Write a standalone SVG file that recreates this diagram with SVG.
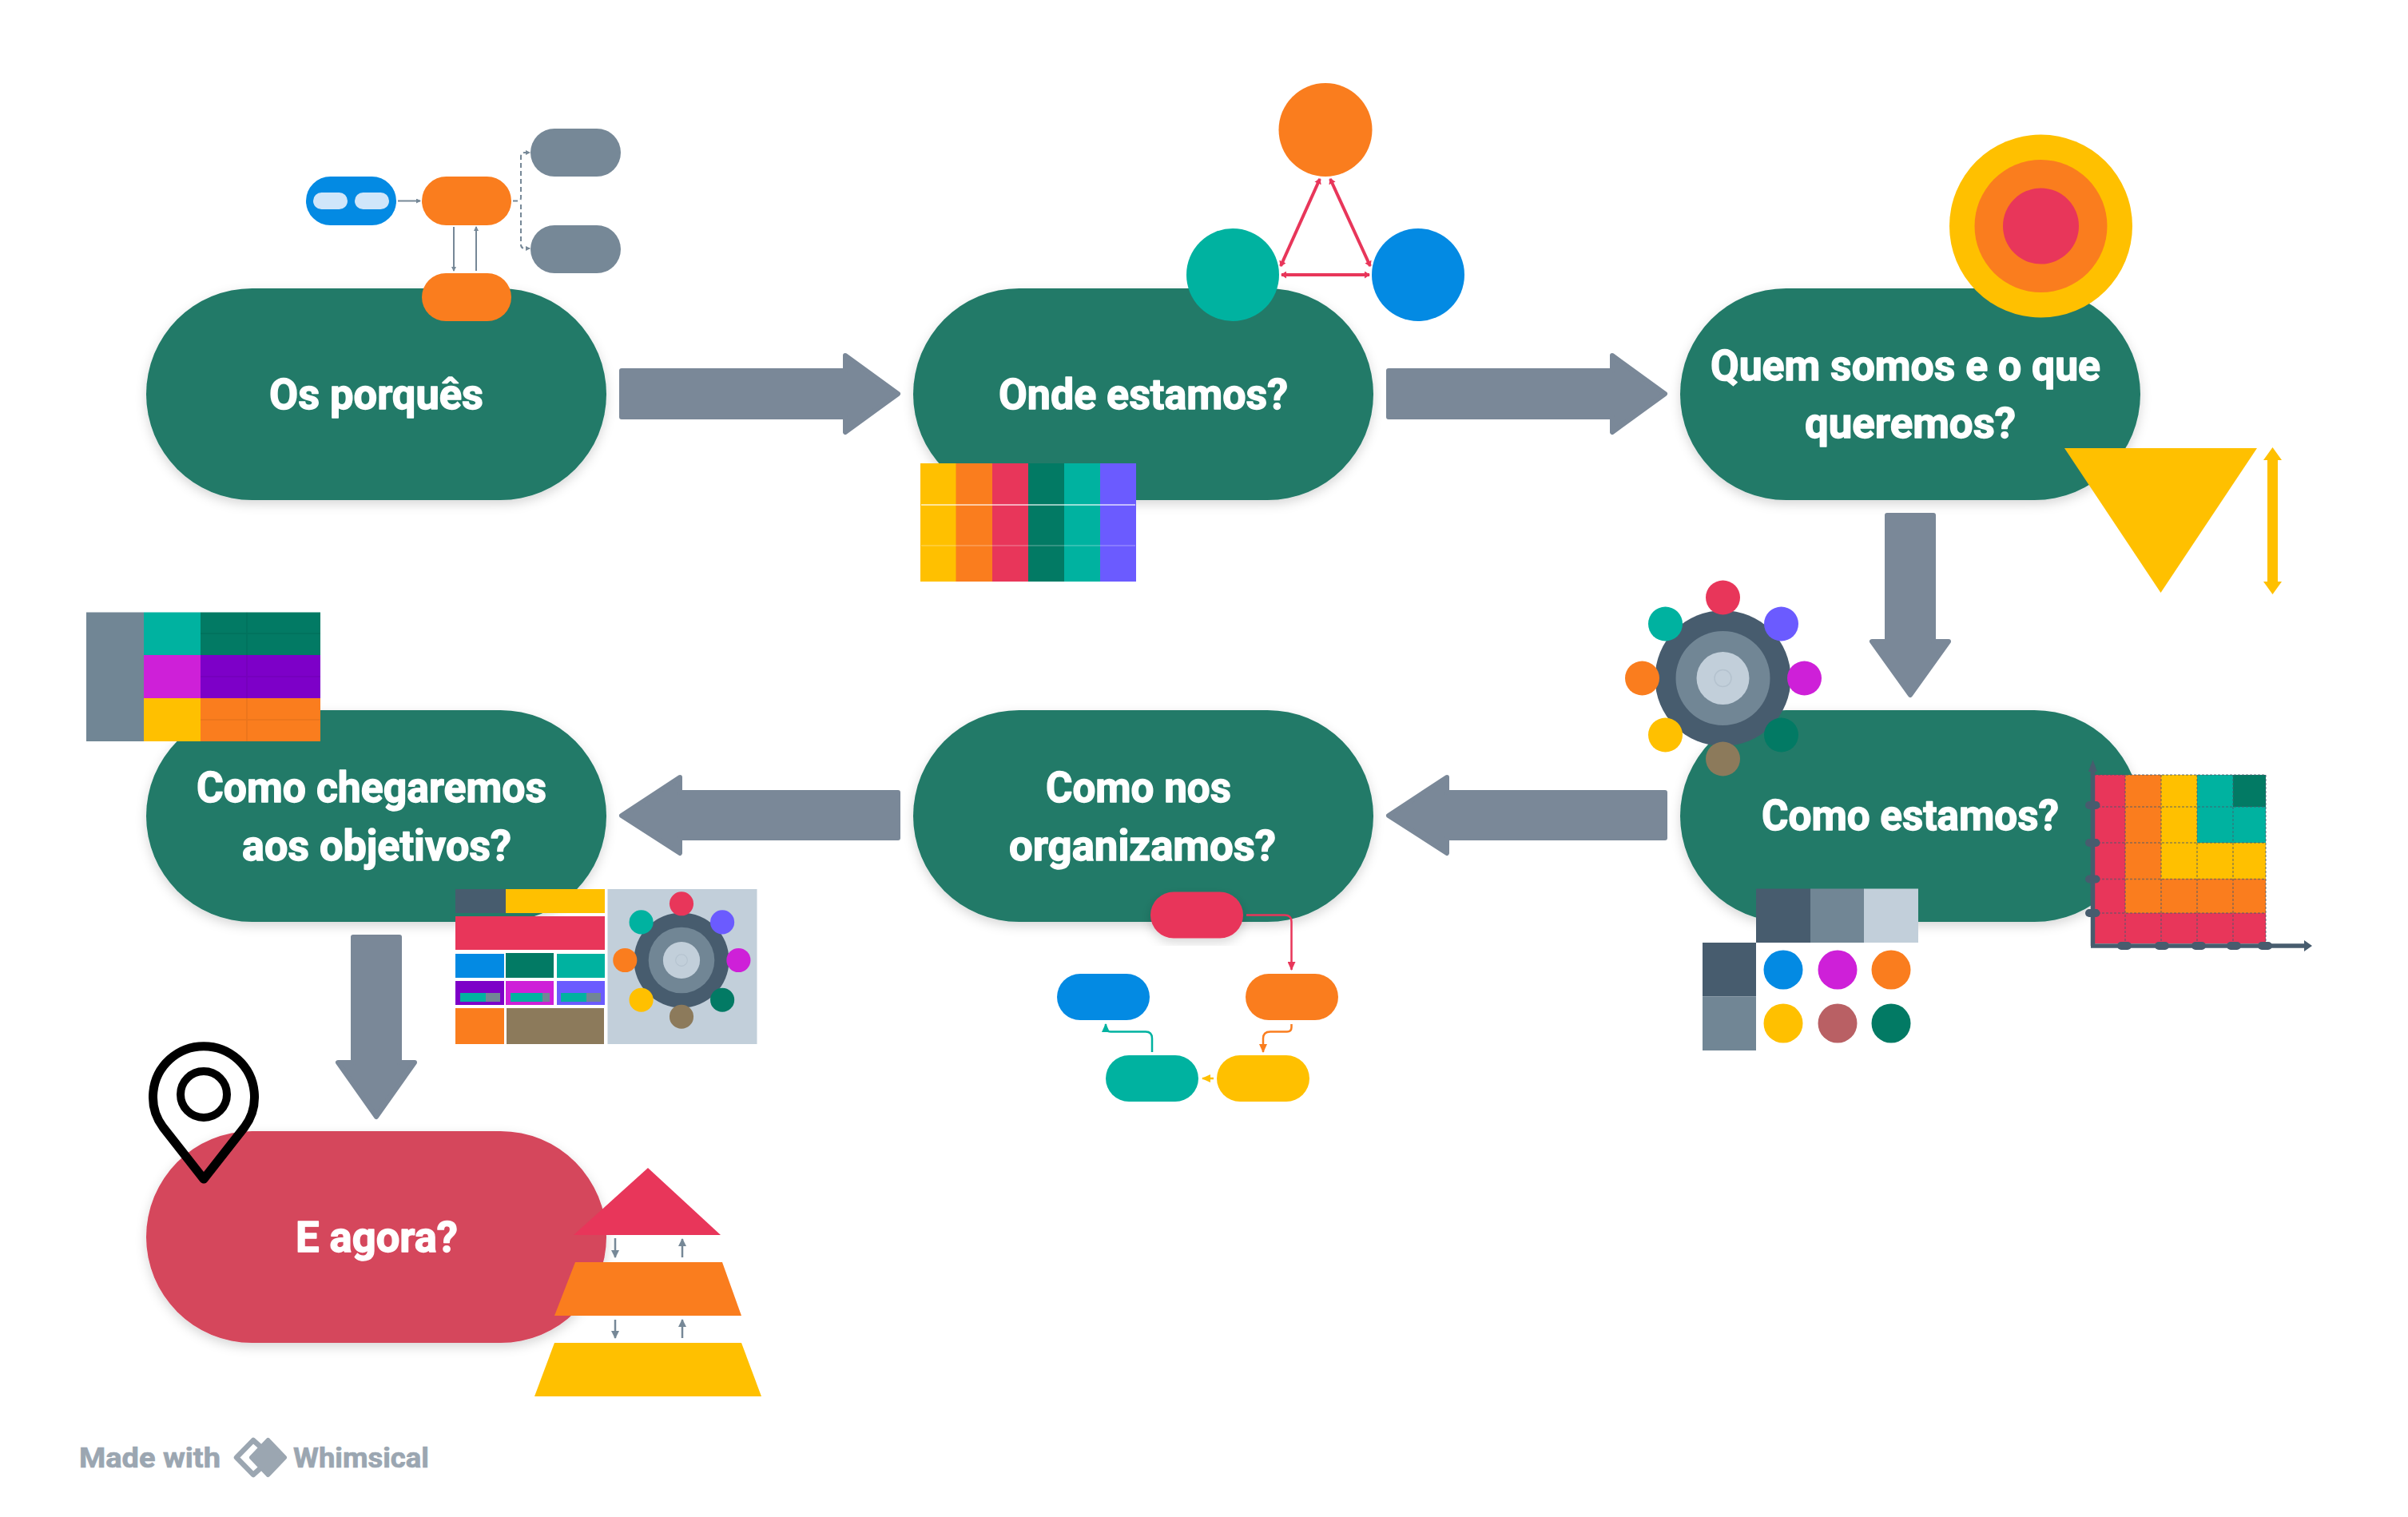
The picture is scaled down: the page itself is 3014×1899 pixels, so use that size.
<svg xmlns="http://www.w3.org/2000/svg" xmlns:xlink="http://www.w3.org/1999/xlink" width="3014" height="1899" viewBox="0 0 3014 1899">
<style>
  .stage { fill: #227A68; filter: url(#soft); }
  .stage-alert { fill: #D5465C; filter: url(#soft); }
  .label { font-family: "Roboto", "Liberation Sans", sans-serif; font-weight: 700; font-size: 53px; fill: #fff; stroke: #fff; stroke-width: 1.4; stroke-linejoin: round; }
  .flow { fill: #7A8898; stroke: #7A8898; stroke-width: 6; stroke-linejoin: round; }
  .thin { fill: none; stroke: #768897; stroke-width: 2; }
  .red { fill: #E8365A; } .ora { fill: #FA7D1E; } .yel { fill: #FFC000; } .grn { fill: #027A64; } .tea { fill: #00B2A0; } .vio { fill: #6B5BFF; }
  .blu { fill: #038AE3; } .mag { fill: #CE20D8; } .pur { fill: #7D00C8; } .bro { fill: #8C7A5B; } .sl1 { fill: #475C6E; } .sl2 { fill: #718695; } .sl3 { fill: #C2CFDA; }
  .brand { font-family: "Roboto", "Liberation Sans", sans-serif; font-weight: 700; font-size: 35px; fill: #9BA6B1; stroke: #9BA6B1; stroke-width: 0.7; }
</style>
<defs>
  <filter id="soft" x="-10%" y="-10%" width="120%" height="125%"><feDropShadow dx="0" dy="5" stdDeviation="7" flood-color="#000" flood-opacity="0.16"/></filter>
  <marker id="tipGrey" markerWidth="7" markerHeight="7" refX="5" refY="3" orient="auto-start-reverse" markerUnits="userSpaceOnUse"><path d="M0,0 L6,3 L0,6 Z" fill="#768897"/></marker>
  <marker id="tipTriad" markerWidth="8" markerHeight="9" refX="6" refY="4.5" orient="auto-start-reverse" markerUnits="userSpaceOnUse"><path d="M0,0 L7,4.5 L0,9 Z" fill="#E8365A"/></marker>
  <marker id="tipRed" markerWidth="12" markerHeight="10" refX="10" refY="5" orient="auto" markerUnits="userSpaceOnUse"><path d="M0,0 L11,5 L0,10 Z" fill="#E8365A"/></marker>
  <marker id="tipOra" markerWidth="12" markerHeight="10" refX="10" refY="5" orient="auto" markerUnits="userSpaceOnUse"><path d="M0,0 L11,5 L0,10 Z" fill="#FA7D1E"/></marker>
  <marker id="tipYel" markerWidth="12" markerHeight="10" refX="10" refY="5" orient="auto" markerUnits="userSpaceOnUse"><path d="M0,0 L11,5 L0,10 Z" fill="#FFC000"/></marker>
  <marker id="tipTea" markerWidth="12" markerHeight="10" refX="10" refY="5" orient="auto" markerUnits="userSpaceOnUse"><path d="M0,0 L11,5 L0,10 Z" fill="#00B2A0"/></marker>
  <marker id="tipPyr" markerWidth="12" markerHeight="12" refX="9" refY="5" orient="auto" markerUnits="userSpaceOnUse"><path d="M0,0 L10,5 L0,10 Z" fill="#768897"/></marker>
  <g id="gear">
    <circle r="85" class="sl1"/><circle r="59" class="sl2"/><circle r="33" class="sl3"/>
    <circle r="10.5" fill="none" stroke="#B4C2CE" stroke-width="1.5"/>
    <circle cy="-101" r="21.5" class="red"/><circle cx="-72" cy="-68" r="21.5" class="tea"/><circle cx="73" cy="-68" r="21.5" class="vio"/>
    <circle cx="-101" r="21.5" class="ora"/><circle cx="102" r="21.5" class="mag"/>
    <circle cx="-72" cy="71" r="21.5" class="yel"/><circle cx="73" cy="71" r="21.5" class="grn"/><circle cy="101" r="21.5" class="bro"/>
  </g>
</defs>
<rect width="3014" height="1899" fill="#fff"/>

<g id="connectors">
  <path class="flow" d="M778,464 H1058 V445 L1124,493 L1058,541 V522 H778 Z"/>
  <path class="flow" d="M1738,464 H2018 V445 L2084,493 L2018,541 V522 H1738 Z"/>
  <path class="flow" d="M2362,645 H2420 V803 H2439 L2391,870 L2343,803 H2362 Z"/>
  <path class="flow" d="M2084,992 H1811 V973 L1738,1021 L1811,1068 V1049 H2084 Z"/>
  <path class="flow" d="M1124,992 H851 V973 L778,1021 L851,1068 V1049 H1124 Z"/>
  <path class="flow" d="M442,1173 H500 V1330 H519 L471,1398 L423,1330 H442 Z"/>
</g>

<g id="node-porques">
  <rect class="stage" x="183" y="361" width="576" height="265" rx="132.5"/>
  <text class="label" x="337" y="512" textLength="268" lengthAdjust="spacingAndGlyphs">Os porquês</text>
</g>
<g id="node-onde">
  <rect class="stage" x="1143" y="361" width="576" height="265" rx="132.5"/>
  <text class="label" x="1250" y="512" textLength="362" lengthAdjust="spacingAndGlyphs">Onde estamos?</text>
</g>
<g id="node-quem">
  <rect class="stage" x="2103" y="361" width="576" height="265" rx="132.5"/>
  <text class="label" x="2141" y="476" textLength="488" lengthAdjust="spacingAndGlyphs">Quem somos e o que</text>
  <text class="label" x="2259" y="548" textLength="264" lengthAdjust="spacingAndGlyphs">queremos?</text>
</g>
<g id="node-como-estamos">
  <rect class="stage" x="2103" y="889" width="576" height="265" rx="132.5"/>
  <text class="label" x="2205" y="1039" textLength="372" lengthAdjust="spacingAndGlyphs">Como estamos?</text>
</g>
<g id="node-organizamos">
  <rect class="stage" x="1143" y="889" width="576" height="265" rx="132.5"/>
  <text class="label" x="1309" y="1004" textLength="232" lengthAdjust="spacingAndGlyphs">Como nos</text>
  <text class="label" x="1263" y="1077" textLength="334" lengthAdjust="spacingAndGlyphs">organizamos?</text>
</g>
<g id="node-chegaremos">
  <rect class="stage" x="183" y="889" width="576" height="265" rx="132.5"/>
  <text class="label" x="246" y="1004" textLength="438" lengthAdjust="spacingAndGlyphs">Como chegaremos</text>
  <text class="label" x="303" y="1077" textLength="337" lengthAdjust="spacingAndGlyphs">aos objetivos?</text>
</g>
<g id="node-agora">
  <rect class="stage-alert" x="183" y="1416" width="576" height="265" rx="132.5"/>
  <text class="label" x="370" y="1567" textLength="203" lengthAdjust="spacingAndGlyphs">E agora?</text>
</g>

<g id="icon-mindmap">
  <rect class="blu" x="383" y="221" width="113" height="61" rx="30.5"/>
  <rect x="392" y="241" width="43" height="21" rx="10.5" fill="#D0E6FA"/>
  <rect x="444" y="241" width="43" height="21" rx="10.5" fill="#D0E6FA"/>
  <rect class="ora" x="528" y="221" width="112" height="61" rx="30.5"/>
  <rect class="ora" x="528" y="342" width="112" height="60" rx="30"/>
  <rect x="664" y="161" width="113" height="60" rx="30" fill="#768897"/>
  <rect x="664" y="282" width="113" height="60" rx="30" fill="#768897"/>
  <path class="thin" d="M498,251.5 H526" marker-end="url(#tipGrey)"/>
  <path class="thin" d="M568,284 V339" marker-end="url(#tipGrey)"/>
  <path class="thin" d="M596,339 V284" marker-end="url(#tipGrey)"/>
  <path class="thin" stroke-dasharray="6 4" d="M642,251.5 H649 Q652,251.5 652,247 V196 Q652,191 657,191 H663" marker-end="url(#tipGrey)"/>
  <path class="thin" stroke-dasharray="6 4" d="M652,256 V306 Q652,311 657,311 H663" marker-end="url(#tipGrey)"/>
</g>

<g id="icon-triad">
  <circle class="ora" cx="1659" cy="162.5" r="58.5"/>
  <circle class="tea" cx="1543" cy="344" r="58"/>
  <circle class="blu" cx="1775" cy="344" r="58"/>
  <g fill="none" stroke="#E8365A" stroke-width="4">
    <path d="M1652,224 L1603,333" marker-start="url(#tipTriad)" marker-end="url(#tipTriad)"/>
    <path d="M1665,224 L1715,333" marker-start="url(#tipTriad)" marker-end="url(#tipTriad)"/>
    <path d="M1604,344 H1714" marker-start="url(#tipTriad)" marker-end="url(#tipTriad)"/>
  </g>
</g>

<g id="icon-columns">
  <rect class="yel" x="1152" y="580" width="45" height="148"/>
  <rect class="ora" x="1196.5" y="580" width="46" height="148"/>
  <rect class="red" x="1242" y="580" width="45.5" height="148"/>
  <rect class="grn" x="1287" y="580" width="45.5" height="148"/>
  <rect class="tea" x="1332" y="580" width="45.5" height="148"/>
  <rect class="vio" x="1377" y="580" width="45" height="148"/>
  <path d="M1153,632 H1421" stroke="#fff" stroke-opacity="0.8" stroke-width="1.5"/>
  <path d="M1153,683 H1421" stroke="#fff" stroke-opacity="0.2" stroke-width="2"/>
</g>

<g id="icon-target">
  <circle class="yel" cx="2554.5" cy="283" r="114.5"/>
  <circle class="ora" cx="2554.5" cy="283" r="83"/>
  <circle class="red" cx="2554.5" cy="283" r="47.5"/>
</g>

<g id="icon-triangle">
  <path class="yel" d="M2584,561 H2825 L2704.5,742 Z"/>
  <path class="yel" d="M2844.5,560 L2856,576 H2851 V728 H2856 L2844.5,744 L2833,728 H2838 V576 H2833 Z"/>
</g>

<use id="icon-gear" xlink:href="#gear" href="#gear" x="2156.5" y="849"/>

<g id="icon-swatches">
  <rect x="2198" y="1180" width="203" height="135" fill="#fff"/>
  <rect class="sl1" x="2198" y="1112.5" width="68" height="67.5"/>
  <rect class="sl2" x="2266" y="1112.5" width="67.5" height="67.5"/>
  <rect class="sl3" x="2333" y="1112.5" width="68" height="67.5"/>
  <rect class="sl1" x="2131" y="1180" width="67" height="67.5"/>
  <rect class="sl2" x="2131" y="1247.5" width="67" height="67.5"/>
  <circle class="blu" cx="2232" cy="1214" r="24.5"/>
  <circle class="mag" cx="2300" cy="1214" r="24.5"/>
  <circle class="ora" cx="2367" cy="1214" r="24.5"/>
  <circle class="yel" cx="2232" cy="1281" r="24.5"/>
  <circle cx="2300" cy="1281" r="24.5" fill="#B96064"/>
  <circle class="grn" cx="2367" cy="1281" r="24.5"/>
</g>

<g id="icon-chart">
  <rect class="red" x="2621" y="970" width="215" height="211"/>
  <rect class="ora" x="2660" y="970" width="176" height="173"/>
  <rect class="yel" x="2705" y="970" width="131" height="130"/>
  <rect class="tea" x="2750" y="970" width="86" height="85"/>
  <rect class="grn" x="2795" y="970" width="41" height="40"/>
  <g fill="none" stroke="#475C6E" stroke-opacity="0.6" stroke-width="1.5" stroke-dasharray="3 2">
    <path d="M2621,970 H2836 M2621,1010 H2836 M2621,1055 H2836 M2621,1100.5 H2836 M2621,1143 H2836"/>
    <path d="M2660,970 V1181 M2705,970 V1181 M2750,970 V1181 M2795,970 V1181 M2836,970 V1181"/>
  </g>
  <path d="M2619.5,1184 V958 M2617,1184 H2888" fill="none" stroke="#475C6E" stroke-width="5.5"/>
  <path class="sl1" d="M2619.5,951 L2625,966 H2614 Z M2894,1184 L2884,1177 V1191 Z"/>
  <g class="sl1">
    <rect x="2610" y="1003" width="18.5" height="10" rx="5"/>
    <rect x="2610" y="1050" width="18.5" height="10" rx="5"/>
    <rect x="2610" y="1095.5" width="18.5" height="10" rx="5"/>
    <rect x="2610" y="1138" width="18.5" height="10" rx="5"/>
    <rect x="2650" y="1179" width="18" height="10" rx="5"/>
    <rect x="2697" y="1179" width="18" height="10" rx="5"/>
    <rect x="2743" y="1179" width="18" height="10" rx="5"/>
    <rect x="2787" y="1179" width="18" height="10" rx="5"/>
    <rect x="2826" y="1179" width="18" height="10" rx="5"/>
  </g>
</g>

<g id="icon-cycle">
  <rect class="red" x="1440" y="1116.5" width="116" height="58" rx="29" filter="url(#soft)"/>
  <rect class="ora" x="1559" y="1219" width="116" height="58" rx="29"/>
  <rect class="blu" x="1323" y="1219" width="116" height="58" rx="29"/>
  <rect class="tea" x="1384" y="1321" width="116" height="58" rx="29"/>
  <rect class="yel" x="1523" y="1321" width="116" height="58" rx="29"/>
  <path fill="none" stroke="#E8365A" stroke-width="2.5" d="M1560,1145.5 H1608 Q1616.5,1145.5 1616.5,1154 V1214" marker-end="url(#tipRed)"/>
  <path fill="none" stroke="#FA7D1E" stroke-width="2.5" d="M1616.5,1282 V1286 Q1616.5,1291.5 1611,1291.5 H1590 Q1581,1291.5 1581,1300 V1317" marker-end="url(#tipOra)"/>
  <path fill="none" stroke="#FFC000" stroke-width="2.5" d="M1519,1350 H1505" marker-end="url(#tipYel)"/>
  <path fill="none" stroke="#00B2A0" stroke-width="2.5" d="M1442,1317 V1300 Q1442,1291.5 1434,1291.5 H1390 Q1384,1291.5 1384,1286 V1282" marker-end="url(#tipTea)"/>
</g>

<g id="icon-matrix">
  <rect class="sl2" x="108" y="766.5" width="72" height="161.5"/>
  <rect class="tea" x="180" y="766.5" width="71" height="53.5"/>
  <rect class="grn" x="251" y="766.5" width="150" height="53.5"/>
  <rect class="mag" x="180" y="820" width="71" height="54"/>
  <rect class="pur" x="251" y="820" width="150" height="54"/>
  <rect class="yel" x="180" y="874" width="71" height="54"/>
  <rect class="ora" x="251" y="874" width="150" height="54"/>
  <path d="M309,766.5 V928 M251,793 H401 M251,847 H401 M251,901 H401" stroke="#000" stroke-opacity="0.07" stroke-width="1.5" fill="none"/>
</g>

<g id="icon-dashboard">
  <rect class="sl1" x="570" y="1113" width="63" height="30"/>
  <rect class="yel" x="633" y="1113" width="124" height="30"/>
  <rect class="red" x="570" y="1147" width="187" height="42"/>
  <rect class="blu" x="570" y="1194" width="61" height="30"/>
  <rect class="grn" x="633" y="1193" width="60" height="31"/>
  <rect class="tea" x="697" y="1194" width="60" height="30"/>
  <rect class="pur" x="570" y="1228" width="61" height="30"/>
  <rect class="mag" x="633" y="1228" width="60" height="30"/>
  <rect class="vio" x="697" y="1228" width="60" height="30"/>
  <rect class="tea" x="576" y="1243" width="32" height="11"/><rect class="sl2" x="608" y="1243" width="18" height="11"/>
  <rect class="tea" x="639" y="1243" width="40" height="11"/><rect class="sl2" x="679" y="1243" width="9" height="11"/>
  <rect class="tea" x="702" y="1243" width="32" height="11"/><rect class="sl2" x="734" y="1243" width="18" height="11"/>
  <rect class="ora" x="570" y="1262" width="61" height="45"/>
  <rect class="bro" x="634" y="1262" width="122" height="45"/>
  <rect class="sl3" x="760.5" y="1113" width="187" height="194"/>
  <use xlink:href="#gear" href="#gear" transform="translate(853,1202) scale(0.7)"/>
</g>

<g id="icon-pin">
  <path fill="none" stroke="#000" stroke-width="11" stroke-linejoin="round" d="M255,1476 L204,1411 A63.5,63.5 0 1 1 306,1411 Z"/>
  <circle cx="255" cy="1370" r="29" fill="none" stroke="#000" stroke-width="10"/>
</g>

<g id="icon-pyramid">
  <path class="red" d="M811,1462 L902,1546 H718 Z"/>
  <path class="ora" d="M720,1580 H904 L928,1647 H694 Z"/>
  <path class="yel" d="M694,1681 H928 L953,1748 H669 Z"/>
  <g stroke="#768897" stroke-width="2.5" fill="none">
    <path d="M770,1550 V1574" marker-end="url(#tipPyr)"/>
    <path d="M854,1574 V1551" marker-end="url(#tipPyr)"/>
    <path d="M770,1652 V1675" marker-end="url(#tipPyr)"/>
    <path d="M854,1675 V1652" marker-end="url(#tipPyr)"/>
  </g>
</g>

<g id="brand">
  <text class="brand" x="99" y="1837" textLength="177" lengthAdjust="spacingAndGlyphs">Made with</text>
  <path d="M327,1812 L317,1803 L296,1824.5 L317,1846 L327,1837" fill="none" stroke="#9BA6B1" stroke-width="6.5" stroke-linejoin="round" stroke-linecap="round"/>
  <path d="M335.5,1803 L356,1824.5 L335.5,1846 L315,1824.5 Z" fill="#9BA6B1" stroke="#9BA6B1" stroke-width="6" stroke-linejoin="round"/>
  <text class="brand" x="367" y="1837" textLength="170" lengthAdjust="spacingAndGlyphs">Whimsical</text>
</g>
</svg>
